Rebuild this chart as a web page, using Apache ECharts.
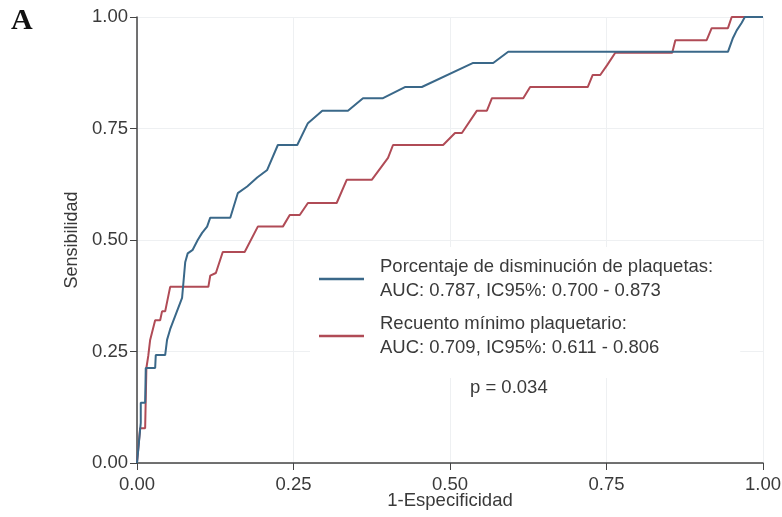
<!DOCTYPE html>
<html>
<head>
<meta charset="utf-8">
<script src="https://cdn.jsdelivr.net/npm/echarts@6/dist/echarts.min.js"></script>
<style>
  html, body { margin: 0; padding: 0; background: #fff; }
  #chart { width: 782px; height: 517px; }
</style>
</head>
<body>
<div id="chart"></div>
<script>
// ROC curve points (1-especificidad, sensibilidad)
const porcentajeX = [0, 0.006, 0.006, 0.013, 0.014, 0.029, 0.030, 0.045, 0.048, 0.053, 0.072, 0.077, 0.081, 0.089, 0.097, 0.104, 0.112, 0.117, 0.149, 0.161, 0.176, 0.192, 0.208, 0.225, 0.256, 0.273, 0.296, 0.337, 0.361, 0.393, 0.428, 0.455, 0.537, 0.569, 0.593, 0.944, 0.952, 0.958, 0.966, 0.971, 1]
const porcentajeY = [0, 0.09, 0.135, 0.135, 0.213, 0.213, 0.242, 0.242, 0.276, 0.30, 0.37, 0.45, 0.47, 0.478, 0.50, 0.516, 0.53, 0.55, 0.55, 0.605, 0.62, 0.64, 0.657, 0.713, 0.713, 0.762, 0.79, 0.79, 0.818, 0.818, 0.843, 0.843, 0.897, 0.897, 0.922, 0.922, 0.953, 0.97, 0.987, 1, 1]

const recuentoX = [0, 0.005, 0.013, 0.015, 0.018, 0.021, 0.029, 0.037, 0.040, 0.045, 0.053, 0.114, 0.117, 0.126, 0.137, 0.172, 0.193, 0.233, 0.244, 0.26, 0.273, 0.319, 0.335, 0.375, 0.401, 0.409, 0.489, 0.508, 0.519, 0.543, 0.559, 0.567, 0.617, 0.628, 0.72, 0.728, 0.74, 0.751, 0.764, 0.855, 0.86, 0.91, 0.918, 0.944, 0.95, 1]
const recuentoY = [0, 0.078, 0.078, 0.213, 0.24, 0.276, 0.32, 0.32, 0.34, 0.34, 0.395, 0.395, 0.42, 0.426, 0.473, 0.473, 0.53, 0.53, 0.556, 0.556, 0.583, 0.583, 0.635, 0.635, 0.684, 0.713, 0.713, 0.74, 0.74, 0.79, 0.79, 0.818, 0.818, 0.843, 0.843, 0.87, 0.87, 0.892, 0.92, 0.92, 0.948, 0.948, 0.975, 0.975, 1, 1]

const seriesNames = ['Porcentaje de disminución de plaquetas:', 'Recuento mínimo plaquetario:']
const aucTexts = ['AUC: 0.787, IC95%: 0.700 - 0.873', 'AUC: 0.709, IC95%: 0.611 - 0.806']
const pText = 'p = 0.034'
const tickLabels = ['0.00', '0.25', '0.50', '0.75', '1.00']

const zip = (xs, ys) => xs.map((x, i) => [x, ys[i]])
const font = 'Liberation Sans, Arial, Helvetica, sans-serif'
const txt = '#3a3a3a'

const chart = echarts.init(document.getElementById('chart'))
chart.setOption({
  animation: false,
  grid: { left: 137, right: 19, top: 17, bottom: 54, outerBoundsMode: 'none' },
  xAxis: {
    type: 'value', min: 0, max: 1, interval: 0.25,
    name: '1-Especificidad', nameLocation: 'middle', nameGap: 28, nameMoveOverlap: false,
    nameTextStyle: { fontFamily: font, fontSize: 18.5, color: txt },
    axisLine: { lineStyle: { color: '#444', width: 1.5 } },
    axisTick: { show: true, length: 7, lineStyle: { color: '#444' } },
    axisLabel: { margin: 12, fontFamily: font, fontSize: 18.5, color: txt, formatter: (v) => tickLabels[Math.round(v * 4)] },
    splitLine: { lineStyle: { color: '#eef0f2' } }
  },
  yAxis: {
    type: 'value', min: 0, max: 1, interval: 0.25,
    name: 'Sensibilidad', nameLocation: 'middle', nameGap: 56, nameMoveOverlap: false,
    nameTextStyle: { fontFamily: font, fontSize: 18, color: txt },
    axisLine: { show: true, lineStyle: { color: '#444', width: 1.5 } },
    axisTick: { show: true, length: 7, lineStyle: { color: '#444' } },
    axisLabel: { margin: 9, fontFamily: font, fontSize: 18.5, color: txt, formatter: (v) => tickLabels[Math.round(v * 4)] },
    splitLine: { lineStyle: { color: '#eef0f2' } }
  },
  legend: {
    orient: 'vertical', left: 310, top: 247,
    icon: 'rect', itemWidth: 45, itemHeight: 2.5, itemGap: 9,
    backgroundColor: '#fff', padding: [8, 27, 18, 9],
    textStyle: { fontFamily: font, fontSize: 18.5, color: txt, lineHeight: 24, padding: [0, 0, 0, 11] },
    formatter: (name) => name + '\n' + aucTexts[seriesNames.indexOf(name)],
    data: seriesNames
  },
  graphic: [
    { type: 'text', left: 11, top: 6, style: { text: 'A', font: 'bold 30px "Liberation Serif", "DejaVu Serif", serif', fill: '#111' } },
    { type: 'text', left: 470, top: 378, style: { text: pText, font: '18.5px ' + font, fill: txt } }
  ],
  series: [
    {
      name: seriesNames[0], type: 'line', data: zip(porcentajeX, porcentajeY),
      symbol: 'none', lineStyle: { color: '#3a6889', width: 2 }, itemStyle: { color: '#3a6889' }, z: 3
    },
    {
      name: seriesNames[1], type: 'line', data: zip(recuentoX, recuentoY),
      symbol: 'none', lineStyle: { color: '#b04b56', width: 2 }, itemStyle: { color: '#b04b56' }, z: 2
    }
  ]
})
</script>
</body>
</html>
